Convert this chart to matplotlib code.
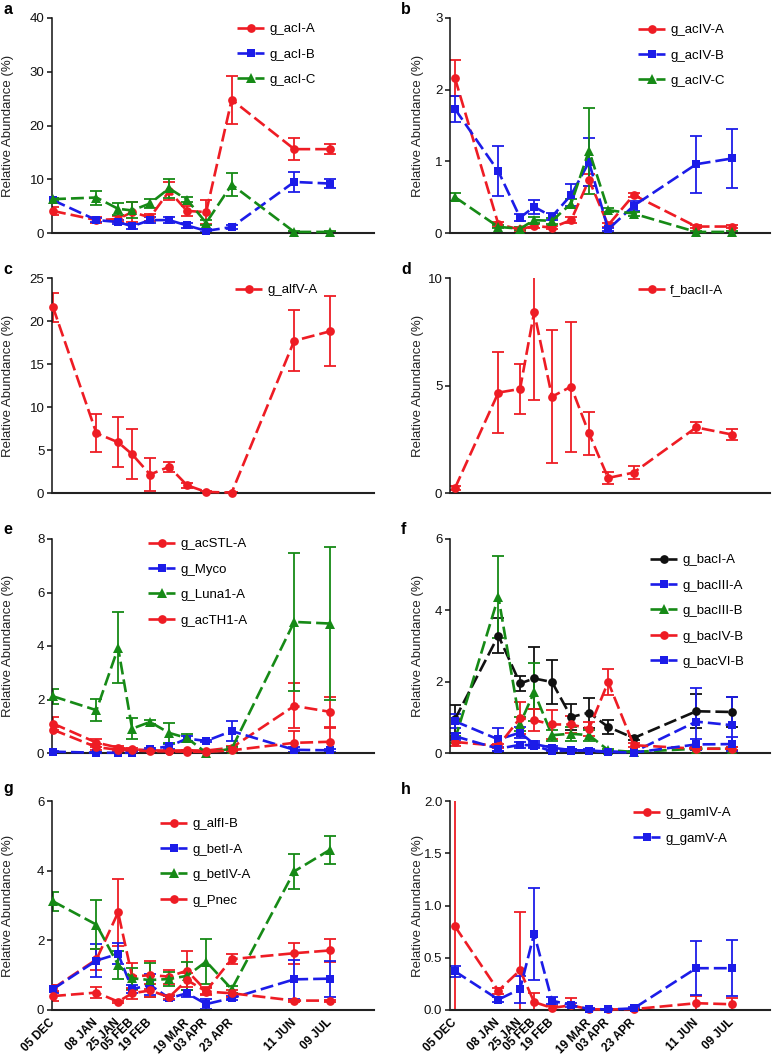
import numpy as np
import pandas as pd
import matplotlib
matplotlib.use('Agg')
import matplotlib.pyplot as plt
from matplotlib.ticker import FormatStrFormatter

plt.rcParams['font.family'] = ['Liberation Sans', 'DejaVu Sans']

# ---------------- data ----------------
sample_dates = ['2011-12-05', '2012-01-08', '2012-01-25', '2012-02-05', '2012-02-19',
                '2012-03-05', '2012-03-19', '2012-04-03', '2012-04-23', '2012-06-11',
                '2012-07-09']
tick_dates = ['2011-12-05', '2012-01-08', '2012-01-25', '2012-02-05', '2012-02-19',
              '2012-03-19', '2012-04-03', '2012-04-23', '2012-06-11', '2012-07-09']
tick_labels = ['05 DEC', '08 JAN', '25 JAN', '05 FEB', '19 FEB',
               '19 MAR', '03 APR', '23 APR', '11 JUN', '09 JUL']

# panel a
acI_A = [4.1, 2.4, 2.6, 3.9, 2.9, 7.8, 4.1, 3.9, 24.8, 15.6, 15.6]
acI_A_err = [0.7, 0.5, 0.5, 1.9, 0.6, 1.7, 1.0, 2.2, 4.5, 2.0, 0.9]
acI_B = [6.1, 2.4, 2.05, 1.25, 2.4, 2.4, 1.4, 0.4, 1.1, 9.5, 9.2]
acI_B_err = [0.4, 0.4, 0.4, 0.5, 0.5, 0.6, 0.4, 0.3, 0.3, 1.8, 0.9]
acI_C = [6.3, 6.6, 4.5, 4.2, 5.5, 8.3, 6.2, 1.9, 9.0, 0.2, 0.2]
acI_C_err = [0.3, 1.3, 1.1, 1.5, 0.9, 1.8, 0.5, 0.5, 2.1, 0.1, 0.1]

# panel b
acIV_A = [2.16, 0.12, 0.05, 0.10, 0.075, 0.18, 0.74, 0.11, 0.53, 0.09, 0.09]
acIV_A_err = [0.25, 0.04, 0.02, 0.03, 0.02, 0.04, 0.08, 0.03, 0.03, 0.02, 0.02]
acIV_B = [1.73, 0.86, 0.215, 0.365, 0.23, 0.53, 0.99, 0.05, 0.38, 0.96, 1.04]
acIV_B_err = [0.18, 0.35, 0.05, 0.10, 0.05, 0.16, 0.34, 0.02, 0.07, 0.40, 0.41]
acIV_C = [0.50, 0.085, 0.06, 0.18, 0.17, 0.41, 1.15, 0.32, 0.27, 0.015, 0.015]
acIV_C_err = [0.06, 0.02, 0.02, 0.04, 0.04, 0.06, 0.60, 0.03, 0.03, 0.01, 0.01]

# panel c
alfV_A = [21.6, 6.95, 5.9, 4.5, 2.15, 3.05, 0.9, 0.12, 0.05, 17.7, 18.8]
alfV_A_err = [1.7, 2.2, 2.9, 2.9, 1.9, 0.6, 0.3, 0.1, 0.1, 3.55, 4.05]

# panel d
bacII_A = [0.23, 4.67, 4.84, 8.41, 4.48, 4.95, 2.77, 0.70, 0.95, 3.05, 2.72]
bacII_A_err = [0.10, 1.89, 1.15, 4.10, 3.08, 3.02, 1.00, 0.30, 0.30, 0.25, 0.25]

# panel e
acSTL_A = [1.10, 0.39, 0.20, 0.14, 0.10, 0.09, 0.10, 0.09, 0.20, 1.76, 1.54]
acSTL_A_err = [0.25, 0.15, 0.05, 0.04, 0.03, 0.03, 0.03, 0.03, 0.05, 0.84, 0.56]
Myco = [0.05, 0.01, 0.01, 0.01, 0.15, 0.25, 0.54, 0.45, 0.82, 0.12, 0.10]
Myco_err = [0.03, 0.01, 0.01, 0.01, 0.05, 0.10, 0.10, 0.05, 0.38, 0.10, 0.06]
Luna1_A = [2.12, 1.60, 3.93, 0.91, 1.16, 0.75, 0.56, 0.01, 0.16, 4.90, 4.84]
Luna1_A_err = [0.28, 0.42, 1.33, 0.40, 0.06, 0.37, 0.15, 0.01, 0.05, 2.57, 2.87]
acTH1_A = [0.87, 0.22, 0.12, 0.10, 0.07, 0.06, 0.05, 0.04, 0.10, 0.38, 0.42]
acTH1_A_err = [0.10, 0.10, 0.03, 0.03, 0.02, 0.02, 0.02, 0.02, 0.03, 0.45, 0.50]

# panel f
bacI_A = [0.95, 3.29, 1.95, 2.09, 1.99, 1.01, 1.13, 0.73, 0.42, 1.17, 1.15]
bacI_A_err = [0.40, 0.49, 0.20, 0.87, 0.61, 0.37, 0.42, 0.20, 0.05, 0.48, 0.43]
bacIII_A = [0.89, 0.38, 0.57, 0.25, 0.15, 0.08, 0.07, 0.04, 0.03, 0.88, 0.78]
bacIII_A_err = [0.20, 0.31, 0.15, 0.08, 0.06, 0.04, 0.03, 0.02, 0.02, 0.93, 0.80]
bacIII_B = [0.38, 4.38, 0.82, 1.71, 0.50, 0.54, 0.50, 0.08, 0.03, 0.12, 0.12]
bacIII_B_err = [0.10, 1.15, 0.20, 0.82, 0.15, 0.20, 0.15, 0.03, 0.02, 0.04, 0.04]
bacIV_B = [0.31, 0.20, 0.98, 0.92, 0.80, 0.80, 0.68, 1.99, 0.22, 0.12, 0.12]
bacIV_B_err = [0.10, 0.05, 0.45, 0.30, 0.40, 0.25, 0.20, 0.37, 0.05, 0.04, 0.04]
bacVI_B = [0.47, 0.12, 0.23, 0.21, 0.05, 0.07, 0.06, 0.03, 0.01, 0.24, 0.25]
bacVI_B_err = [0.10, 0.05, 0.08, 0.06, 0.03, 0.03, 0.03, 0.02, 0.01, 0.15, 0.20]

# panel g
alfI_B = [0.62, 1.45, 2.80, 0.96, 1.00, 0.96, 1.13, 0.55, 1.46, 1.63, 1.71]
alfI_B_err = [0.10, 0.30, 0.95, 0.40, 0.40, 0.20, 0.55, 0.10, 0.15, 0.30, 0.32]
betI_A = [0.60, 1.42, 1.61, 0.60, 0.72, 0.34, 0.48, 0.17, 0.34, 0.88, 0.90]
betI_A_err = [0.10, 0.47, 0.30, 0.12, 0.30, 0.05, 0.10, 0.15, 0.05, 0.55, 0.52]
betIV_A = [3.12, 2.45, 1.30, 0.91, 0.86, 0.89, 0.98, 1.39, 0.60, 3.98, 4.60]
betIV_A_err = [0.28, 0.70, 0.40, 0.30, 0.50, 0.20, 0.40, 0.64, 0.10, 0.50, 0.40]
Pnec = [0.40, 0.50, 0.24, 0.48, 0.56, 0.37, 0.86, 0.53, 0.48, 0.27, 0.27]
Pnec_err = [0.15, 0.15, 0.03, 0.15, 0.20, 0.05, 0.20, 0.10, 0.10, 0.03, 0.03]

# panel h
gamIV_A = [0.80, 0.185, 0.38, 0.076, 0.02, 0.045, 0.007, 0.005, 0.008, 0.065, 0.055]
gamIV_A_err = [1.30, 0.03, 0.56, 0.085, 0.02, 0.07, 0.005, 0.004, 0.006, 0.07, 0.06]
gamV_A = [0.37, 0.10, 0.20, 0.73, 0.09, 0.045, 0.01, 0.005, 0.015, 0.40, 0.40]
gamV_A_err = [0.05, 0.02, 0.13, 0.44, 0.03, 0.02, 0.005, 0.004, 0.01, 0.26, 0.27]

# ---------------- style ----------------
RED = '#ee1c24'
BLUE = '#1c1ce8'
GREEN = '#168a16'
BLACK = '#111111'

W, H = 777, 1057
fig = plt.figure(figsize=(W / 100, H / 100), dpi=100)

t0 = pd.Timestamp(sample_dates[0])
days = np.array([(pd.Timestamp(d) - t0).days for d in sample_dates], dtype=float)
tick_days = np.array([(pd.Timestamp(d) - t0).days for d in tick_dates], dtype=float)

panels = [
    dict(letter='a', col=0, row=0, ymax=40, yticks=[0, 10, 20, 30, 40], leg=(237, 27),
         series=[(acI_A, acI_A_err, RED, 'o', 'g_acI-A'),
                 (acI_B, acI_B_err, BLUE, 's', 'g_acI-B'),
                 (acI_C, acI_C_err, GREEN, '^', 'g_acI-C')]),
    dict(letter='b', col=1, row=0, ymax=3, yticks=[0, 1, 2, 3], leg=(638, 28),
         series=[(acIV_A, acIV_A_err, RED, 'o', 'g_acIV-A'),
                 (acIV_B, acIV_B_err, BLUE, 's', 'g_acIV-B'),
                 (acIV_C, acIV_C_err, GREEN, '^', 'g_acIV-C')]),
    dict(letter='c', col=0, row=1, ymax=25, yticks=[0, 5, 10, 15, 20, 25], leg=(235, 288),
         series=[(alfV_A, alfV_A_err, RED, 'o', 'g_alfV-A')]),
    dict(letter='d', col=1, row=1, ymax=10, yticks=[0, 5, 10], leg=(638, 288),
         series=[(bacII_A, bacII_A_err, RED, 'o', 'f_bacII-A')]),
    dict(letter='e', col=0, row=2, ymax=8, yticks=[0, 2, 4, 6, 8], leg=(148, 542),
         series=[(acSTL_A, acSTL_A_err, RED, 'o', 'g_acSTL-A'),
                 (Myco, Myco_err, BLUE, 's', 'g_Myco'),
                 (Luna1_A, Luna1_A_err, GREEN, '^', 'g_Luna1-A'),
                 (acTH1_A, acTH1_A_err, RED, 'o', 'g_acTH1-A')]),
    dict(letter='f', col=1, row=2, ymax=6, yticks=[0, 2, 4, 6], leg=(650, 558),
         series=[(bacI_A, bacI_A_err, BLACK, 'o', 'g_bacI-A'),
                 (bacIII_A, bacIII_A_err, BLUE, 's', 'g_bacIII-A'),
                 (bacIII_B, bacIII_B_err, GREEN, '^', 'g_bacIII-B'),
                 (bacIV_B, bacIV_B_err, RED, 'o', 'g_bacIV-B'),
                 (bacVI_B, bacVI_B_err, BLUE, 's', 'g_bacVI-B')]),
    dict(letter='g', col=0, row=3, ymax=6, yticks=[0, 2, 4, 6], leg=(160, 822),
         series=[(alfI_B, alfI_B_err, RED, 'o', 'g_alfI-B'),
                 (betI_A, betI_A_err, BLUE, 's', 'g_betI-A'),
                 (betIV_A, betIV_A_err, GREEN, '^', 'g_betIV-A'),
                 (Pnec, Pnec_err, RED, 'o', 'g_Pnec')]),
    dict(letter='h', col=1, row=3, ymax=2.0, yticks=[0, 0.5, 1.0, 1.5, 2.0], leg=(633, 811),
         series=[(gamIV_A, gamIV_A_err, RED, 'o', 'g_gamIV-A'),
                 (gamV_A, gamV_A_err, BLUE, 's', 'g_gamV-A')]),
]

col_px = [(52, 374), (450, 770)]
col_xlim = [(-0.8, 251.5), (-3.9, 246.8)]
row_px = [(18, 233), (278, 493), (539, 753), (801, 1010)]
letter_y = [9, 269, 529, 789]
letter_x = [3, 401]

ms_map = {'o': 6.3, 's': 6.0, '^': 6.6}
DASH = (0, (4.9, 1.9))

for p in panels:
    x0, x1 = col_px[p['col']]
    yt, yb = row_px[p['row']]
    ax = fig.add_axes([x0 / W, 1 - yb / H, (x1 - x0) / W, (yb - yt) / H])
    for (vals, err, color, mk, label) in p['series']:
        ax.errorbar(days, vals, yerr=err, fmt='none', ecolor=color,
                    elinewidth=1.3, capsize=4.0, capthick=1.3, zorder=2)
        ax.plot(days, vals, linestyle=DASH, color=color, lw=1.9, marker=mk,
                ms=ms_map[mk], mec=color, mfc=color, mew=0, label=label,
                zorder=3, clip_on=False)
    ax.set_xlim(*col_xlim[p['col']])
    ax.set_ylim(0, p['ymax'])
    ax.set_yticks(p['yticks'])
    if p['letter'] == 'h':
        ax.yaxis.set_major_formatter(FormatStrFormatter('%.1f'))
    for s in ['top', 'right']:
        ax.spines[s].set_visible(False)
    ax.spines['left'].set_linewidth(1.1)
    ax.spines['left'].set_color('#111111')
    ax.spines['bottom'].set_linewidth(1.5)
    ax.spines['bottom'].set_color('#222222')
    ax.tick_params(axis='y', direction='out', length=3.5, width=1.1, labelsize=9.5,
                   pad=2, colors='#111111')
    ax.set_xticks(tick_days)
    if p['row'] == 3:
        ax.set_xticklabels(tick_labels, rotation=45, ha='right', va='center',
                           rotation_mode='anchor', fontsize=8.5, fontweight='bold')
        ax.tick_params(axis='x', length=0, pad=8)
    else:
        ax.tick_params(axis='x', length=0, labelbottom=False)
    ax.set_ylabel('Relative Abundance (%)', fontsize=9.5, color='#222222')
    if p['col'] == 0:
        ax.yaxis.set_label_coords(-38 / 322, 0.5)
    else:
        ax.yaxis.set_label_coords(-26 / 320, 0.5)
    lx, ly = p['leg']
    ax.legend(loc='upper left', bbox_to_anchor=(lx / W, 1 - (ly - 4) / H),
              bbox_transform=fig.transFigure, frameon=False, borderpad=0,
              borderaxespad=0, handlelength=2.05, handletextpad=0.4,
              labelspacing=1.0, fontsize=9.5, numpoints=1)
    fig.text(letter_x[p['col']] / W, 1 - letter_y[p['row']] / H, p['letter'],
             fontsize=11.5, fontweight='bold', va='center', ha='left')

fig.savefig('out.png', dpi=100)
